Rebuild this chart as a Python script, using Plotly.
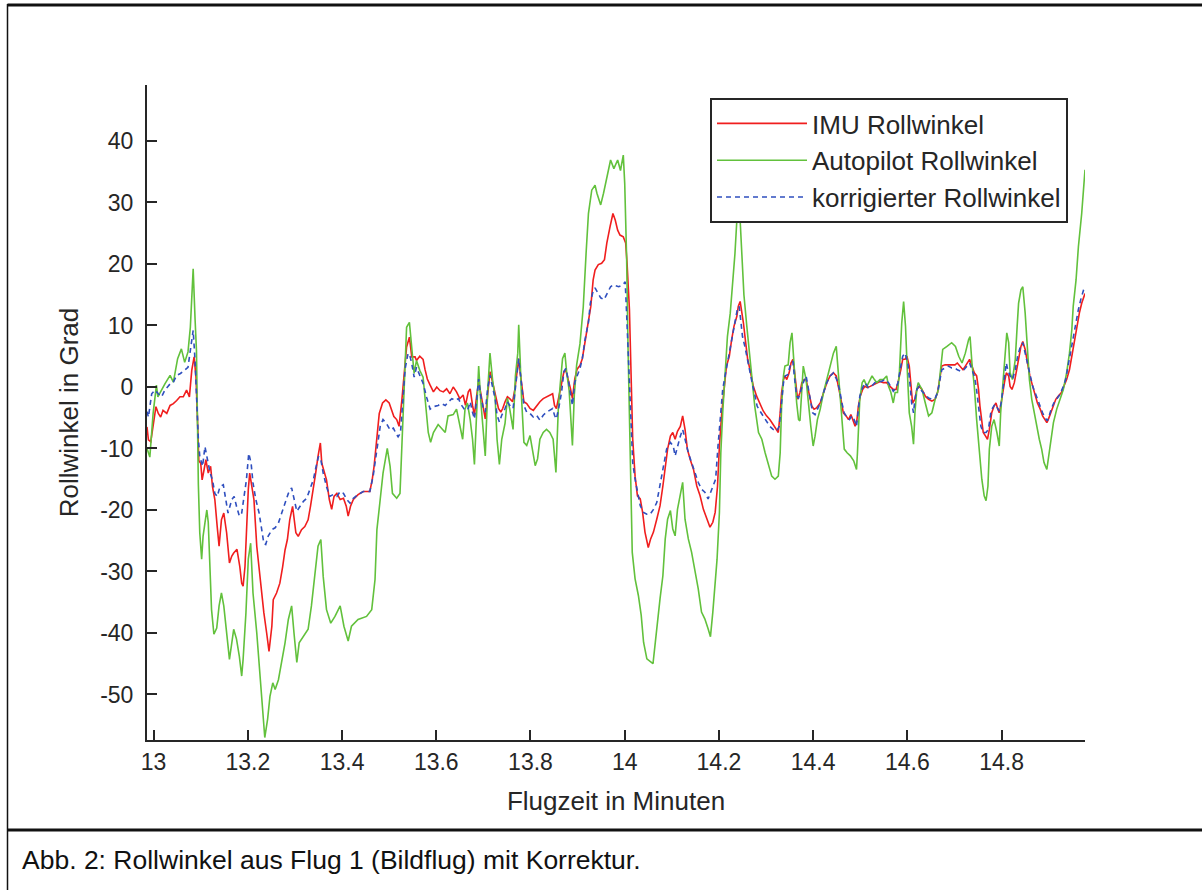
import plotly.graph_objects as go

# ---------------- data (time in minutes, roll angle in degrees) ----------------
imu = [
    (12.986, -6.5), (12.989, -8.6), (12.994, -8.9), (12.999, -5.9), (13.005, -3.2), (13.010, -4.3),
    (13.015, -4.9), (13.020, -3.8), (13.028, -4.3), (13.035, -3.0), (13.042, -2.7), (13.049, -2.2),
    (13.056, -1.6), (13.063, -1.6), (13.070, -0.5), (13.076, -1.6), (13.081, 2.7), (13.086, 4.9),
    (13.090, 1.6), (13.093, -4.9), (13.096, -12.0), (13.100, -12.4), (13.103, -15.1), (13.107, -13.5),
    (13.111, -11.8), (13.116, -14.0), (13.121, -12.9), (13.125, -16.2), (13.130, -18.3), (13.135, -22.7),
    (13.139, -25.9), (13.144, -21.6), (13.149, -20.5), (13.155, -23.7), (13.161, -28.6), (13.166, -27.5),
    (13.170, -27.0), (13.177, -26.4), (13.183, -29.2), (13.187, -31.9), (13.190, -32.4), (13.194, -29.2),
    (13.197, -23.7), (13.201, -16.7), (13.204, -14.0), (13.208, -16.2), (13.213, -18.3), (13.219, -25.9),
    (13.224, -29.7), (13.229, -33.5), (13.234, -36.7), (13.240, -40.0), (13.245, -43.0), (13.251, -38.9),
    (13.254, -34.6), (13.261, -33.5), (13.268, -31.9), (13.274, -29.2), (13.279, -26.5), (13.284, -24.8),
    (13.289, -21.6), (13.295, -19.4), (13.298, -21.6), (13.302, -23.7), (13.307, -24.3), (13.314, -23.2),
    (13.321, -22.7), (13.328, -21.6), (13.333, -19.4), (13.339, -16.7), (13.344, -14.0), (13.349, -11.3),
    (13.354, -9.1), (13.357, -12.4), (13.362, -14.0), (13.367, -15.1), (13.373, -18.3), (13.378, -19.9),
    (13.383, -17.8), (13.389, -17.3), (13.396, -18.3), (13.403, -18.1), (13.409, -19.4), (13.413, -21.0),
    (13.418, -19.4), (13.424, -18.3), (13.434, -17.5), (13.445, -17.0), (13.459, -17.0), (13.464, -15.1),
    (13.468, -12.9), (13.474, -8.6), (13.479, -4.3), (13.486, -2.6), (13.493, -2.1), (13.500, -2.6),
    (13.505, -3.7), (13.510, -4.8), (13.516, -5.3), (13.521, -6.4), (13.527, -2.1), (13.531, 1.1),
    (13.537, 6.5), (13.543, 8.1), (13.548, 4.9), (13.555, 4.9), (13.558, 4.3), (13.565, 5.0),
    (13.572, 4.5), (13.576, 2.9), (13.581, 1.3), (13.587, 0.3), (13.594, -0.8), (13.601, 0.0),
    (13.608, -0.6), (13.615, -0.8), (13.622, -0.3), (13.629, -1.1), (13.636, 0.0), (13.643, -0.8),
    (13.650, -1.9), (13.657, -1.3), (13.662, -3.0), (13.668, -0.8), (13.672, -0.3), (13.677, -3.0),
    (13.681, -4.6), (13.686, -1.3), (13.690, 0.8), (13.694, -0.8), (13.699, -3.0), (13.704, -5.2),
    (13.709, -1.3), (13.714, 2.5), (13.718, 1.3), (13.721, 0.3), (13.727, -1.3), (13.732, -3.5),
    (13.737, -4.1), (13.741, -3.5), (13.746, -2.4), (13.751, -1.6), (13.756, -1.9), (13.762, -2.4),
    (13.767, -0.3), (13.772, 3.5), (13.775, 4.6), (13.778, 2.5), (13.782, -0.3), (13.786, -2.4),
    (13.792, -2.7), (13.799, -3.5), (13.806, -3.8), (13.813, -3.0), (13.820, -2.4), (13.827, -1.9),
    (13.834, -1.6), (13.841, -1.3), (13.847, -1.1), (13.851, -3.0), (13.855, -3.5), (13.861, -1.3),
    (13.866, 0.8), (13.871, 2.5), (13.875, 2.7), (13.880, 1.3), (13.885, -0.3), (13.889, -1.9),
    (13.894, 1.3), (13.899, 2.9), (13.905, 3.5), (13.910, 4.6), (13.916, 7.3), (13.920, 8.9),
    (13.923, 10.5), (13.928, 13.1), (13.933, 17.4), (13.937, 19.0), (13.944, 19.9), (13.951, 20.1),
    (13.957, 20.7), (13.962, 23.4), (13.969, 26.1), (13.975, 28.2), (13.980, 27.1), (13.985, 25.5),
    (13.990, 24.7), (13.997, 24.4), (14.002, 23.4), (14.005, 20.1), (14.010, 12.6), (14.014, 1.2),
    (14.017, -8.5), (14.022, -14.5), (14.027, -17.7), (14.033, -18.2), (14.038, -20.4), (14.043, -23.6),
    (14.050, -26.1), (14.055, -24.7), (14.061, -23.6), (14.068, -21.5), (14.075, -19.3), (14.081, -16.1),
    (14.086, -12.8), (14.091, -10.1), (14.097, -8.0), (14.102, -7.4), (14.107, -8.5), (14.112, -7.2),
    (14.118, -6.4), (14.123, -4.7), (14.128, -6.9), (14.133, -10.1), (14.139, -11.8), (14.146, -13.4),
    (14.153, -16.1), (14.160, -17.7), (14.167, -19.9), (14.174, -21.5), (14.181, -22.8), (14.187, -22.0),
    (14.192, -20.4), (14.197, -16.1), (14.201, -9.6), (14.206, -4.2), (14.210, -0.4), (14.213, 1.2),
    (14.216, 3.4), (14.222, 5.0), (14.227, 7.7), (14.232, 9.9), (14.238, 11.5), (14.241, 13.1),
    (14.245, 13.9), (14.248, 12.6), (14.252, 10.4), (14.256, 7.7), (14.261, 4.5), (14.266, 2.8),
    (14.273, 0.1), (14.280, -1.5), (14.287, -2.6), (14.294, -3.9), (14.301, -4.7), (14.308, -5.3),
    (14.315, -6.1), (14.322, -6.9), (14.326, -7.4), (14.330, -4.2), (14.333, -0.9), (14.337, 1.2),
    (14.340, 1.8), (14.344, 1.2), (14.349, 2.3), (14.353, 3.9), (14.357, 4.5), (14.360, 2.8),
    (14.364, 0.1), (14.367, -2.0), (14.372, -0.9), (14.376, 0.7), (14.381, 1.2), (14.385, 1.2),
    (14.388, 0.1), (14.392, -1.5), (14.397, -3.1), (14.402, -3.6), (14.407, -3.4), (14.415, -2.6),
    (14.422, -0.9), (14.429, 0.7), (14.436, 1.8), (14.443, 2.3), (14.449, 1.8), (14.454, 0.1),
    (14.459, -2.0), (14.464, -4.2), (14.470, -4.7), (14.475, -5.3), (14.480, -4.5), (14.484, -5.3),
    (14.489, -6.4), (14.493, -5.3), (14.496, -3.1), (14.500, -1.5), (14.505, -0.4), (14.510, 0.1),
    (14.515, -0.1), (14.521, 0.1), (14.528, 0.4), (14.535, 0.7), (14.542, 0.9), (14.549, 0.7),
    (14.556, 0.7), (14.563, 0.1), (14.570, -0.4), (14.576, -0.4), (14.580, 0.7), (14.586, 2.8),
    (14.590, 4.5), (14.595, 4.5), (14.599, 5.0), (14.604, 3.4), (14.608, -0.4), (14.611, -2.6),
    (14.616, -2.0), (14.620, -0.4), (14.625, 0.1), (14.631, -0.4), (14.638, -1.5), (14.645, -2.0),
    (14.652, -2.3), (14.659, -2.0), (14.664, -0.9), (14.668, 1.2), (14.673, 3.4), (14.680, 3.6),
    (14.691, 3.6), (14.701, 3.6), (14.706, 3.9), (14.712, 3.4), (14.718, 2.8), (14.723, 3.4),
    (14.728, 3.9), (14.732, 4.5), (14.737, 3.4), (14.742, 2.3), (14.747, 1.8), (14.751, -0.4),
    (14.754, -3.1), (14.758, -5.8), (14.761, -7.4), (14.766, -8.0), (14.770, -8.5), (14.774, -6.9),
    (14.779, -4.2), (14.784, -3.1), (14.788, -2.6), (14.792, -3.6), (14.795, -4.2), (14.798, -3.1),
    (14.802, -0.9), (14.806, 0.7), (14.810, 2.3), (14.815, 1.8), (14.818, 0.1), (14.822, -0.4),
    (14.827, 0.7), (14.831, 2.3), (14.836, 4.5), (14.841, 6.6), (14.845, 7.4), (14.850, 6.1),
    (14.855, 3.9), (14.860, 1.8), (14.866, 0.1), (14.871, -1.5), (14.876, -2.6), (14.882, -3.6),
    (14.887, -4.7), (14.892, -5.3), (14.896, -5.8), (14.899, -5.3), (14.904, -4.2), (14.910, -3.1),
    (14.915, -2.0), (14.920, -1.5), (14.927, -0.9), (14.932, 0.1), (14.938, 1.2), (14.944, 2.8),
    (14.949, 5.0), (14.954, 7.7), (14.960, 10.4), (14.965, 12.0), (14.970, 13.6), (14.974, 14.7),
    (14.977, 15.2),
]

autopilot = [
    (12.986, -10.0), (12.992, -11.4), (12.999, -4.3), (13.006, 0.3), (13.009, -1.6), (13.016, -0.5),
    (13.024, 0.5), (13.035, 1.9), (13.042, 0.8), (13.051, 4.6), (13.059, 6.2), (13.066, 4.0),
    (13.073, 5.7), (13.078, 9.7), (13.084, 19.2), (13.088, 11.1), (13.091, 5.9), (13.095, -15.8),
    (13.098, -23.7), (13.102, -28.0), (13.105, -24.3), (13.109, -22.1), (13.113, -20.0), (13.116, -22.0),
    (13.120, -29.2), (13.123, -36.2), (13.128, -40.2), (13.134, -39.2), (13.139, -35.6), (13.144, -33.5),
    (13.149, -35.6), (13.155, -40.0), (13.161, -44.3), (13.166, -41.6), (13.170, -39.4), (13.176, -41.0),
    (13.182, -43.8), (13.187, -47.0), (13.190, -44.3), (13.196, -36.7), (13.201, -28.0), (13.206, -25.4),
    (13.211, -33.5), (13.219, -40.0), (13.226, -47.6), (13.231, -53.0), (13.236, -57.0), (13.242, -54.0),
    (13.247, -50.3), (13.253, -48.1), (13.258, -49.2), (13.265, -47.6), (13.272, -44.8), (13.279, -41.6),
    (13.286, -37.8), (13.293, -35.6), (13.298, -40.0), (13.304, -44.8), (13.309, -41.6), (13.318, -40.5),
    (13.328, -39.4), (13.335, -35.6), (13.342, -30.8), (13.349, -25.9), (13.355, -24.8), (13.360, -30.8),
    (13.367, -36.2), (13.376, -38.4), (13.385, -37.3), (13.396, -35.6), (13.404, -38.9), (13.413, -41.3),
    (13.420, -38.9), (13.434, -37.8), (13.452, -37.3), (13.463, -36.2), (13.470, -31.3), (13.474, -23.2),
    (13.481, -18.3), (13.487, -14.0), (13.496, -10.0), (13.502, -12.9), (13.507, -17.3), (13.516, -18.1),
    (13.523, -17.3), (13.527, -9.7), (13.530, -2.1), (13.537, 9.7), (13.543, 10.5), (13.548, 5.9),
    (13.553, 2.2), (13.558, 4.3), (13.565, 2.7), (13.572, 1.6), (13.578, -3.2), (13.583, -7.4),
    (13.588, -9.0), (13.594, -7.4), (13.604, -6.1), (13.619, -7.4), (13.625, -4.7), (13.636, -4.5),
    (13.643, -3.6), (13.650, -6.4), (13.656, -8.5), (13.661, -3.6), (13.666, -2.6), (13.672, -5.3),
    (13.677, -8.5), (13.681, -12.6), (13.686, -3.1), (13.690, 3.4), (13.694, -1.8), (13.700, -7.4),
    (13.704, -11.2), (13.709, -0.8), (13.714, 5.5), (13.720, 0.8), (13.725, -1.8), (13.729, -8.5),
    (13.734, -12.6), (13.739, -8.5), (13.746, -5.9), (13.751, -1.8), (13.756, -3.6), (13.763, -6.9),
    (13.768, 1.8), (13.773, 5.5), (13.775, 10.1), (13.778, 4.6), (13.781, -1.8), (13.786, -9.0),
    (13.792, -9.5), (13.799, -7.9), (13.805, -10.6), (13.810, -12.8), (13.815, -11.7), (13.820, -8.5),
    (13.827, -7.4), (13.834, -6.9), (13.841, -7.4), (13.848, -8.5), (13.854, -13.9), (13.859, -3.6),
    (13.863, 0.3), (13.868, 4.6), (13.873, 5.5), (13.877, 2.2), (13.882, -0.5), (13.887, -6.4),
    (13.889, -9.5), (13.893, -1.3), (13.898, 3.6), (13.905, 7.0), (13.912, 13.0), (13.918, 21.7),
    (13.923, 28.2), (13.930, 32.0), (13.937, 32.8), (13.941, 31.5), (13.949, 29.6), (13.955, 31.5),
    (13.962, 34.2), (13.970, 36.9), (13.977, 35.5), (13.985, 36.9), (13.991, 35.2), (13.997, 37.7),
    (14.000, 33.1), (14.004, 21.2), (14.007, 6.6), (14.012, -14.5), (14.016, -26.9), (14.022, -31.2),
    (14.029, -33.9), (14.035, -37.1), (14.040, -41.5), (14.047, -44.2), (14.054, -44.7), (14.060, -45.0),
    (14.065, -41.5), (14.070, -37.7), (14.075, -34.4), (14.081, -30.7), (14.086, -24.7), (14.091, -21.5),
    (14.097, -20.1), (14.102, -23.1), (14.107, -24.2), (14.112, -19.9), (14.118, -17.1), (14.123, -15.5),
    (14.128, -21.5), (14.135, -24.7), (14.142, -26.9), (14.149, -29.6), (14.156, -32.8), (14.163, -36.6),
    (14.170, -37.7), (14.177, -39.3), (14.182, -40.6), (14.187, -36.6), (14.191, -32.3), (14.196, -28.0),
    (14.201, -20.4), (14.204, -10.7), (14.208, -4.2), (14.213, 2.8), (14.218, 8.2), (14.224, 12.0),
    (14.229, 16.3), (14.234, 21.7), (14.238, 27.1), (14.241, 45.0), (14.245, 27.1), (14.248, 21.8),
    (14.253, 15.0), (14.259, 10.0), (14.266, 4.5), (14.276, -3.1), (14.284, -7.4), (14.291, -8.5),
    (14.298, -10.7), (14.305, -12.8), (14.312, -14.5), (14.319, -15.0), (14.326, -14.5), (14.330, -10.7),
    (14.333, -3.1), (14.337, 1.8), (14.340, 3.4), (14.347, 3.6), (14.351, 7.2), (14.355, 8.8),
    (14.358, 4.5), (14.362, 0.7), (14.365, -2.6), (14.369, -5.3), (14.372, -5.5), (14.376, -0.4),
    (14.379, 3.4), (14.385, 1.2), (14.390, -3.1), (14.395, -6.4), (14.400, -9.6), (14.404, -8.0),
    (14.409, -5.3), (14.415, -3.6), (14.422, -0.9), (14.429, 1.2), (14.436, 3.4), (14.443, 5.5),
    (14.449, 6.6), (14.452, 3.9), (14.456, -0.4), (14.461, -5.3), (14.466, -10.1), (14.472, -10.7),
    (14.479, -11.2), (14.486, -12.0), (14.492, -13.4), (14.494, -10.7), (14.499, -2.0), (14.504, 0.7),
    (14.508, 1.2), (14.514, 0.1), (14.520, 1.2), (14.525, 1.8), (14.530, 1.2), (14.535, 0.7),
    (14.542, 1.2), (14.549, 1.2), (14.556, 1.8), (14.560, 0.1), (14.565, -0.9), (14.570, -2.6),
    (14.574, -0.9), (14.579, -0.9), (14.583, 2.3), (14.588, 10.4), (14.592, 13.9), (14.596, 9.9),
    (14.600, 2.3), (14.604, -4.2), (14.609, -6.4), (14.613, -9.3), (14.616, -4.2), (14.620, -0.4),
    (14.623, 0.7), (14.631, -0.4), (14.638, -2.6), (14.645, -4.7), (14.652, -4.2), (14.659, -2.0),
    (14.666, -0.4), (14.671, 3.4), (14.675, 6.1), (14.684, 6.6), (14.694, 7.2), (14.702, 6.6),
    (14.709, 5.0), (14.716, 3.9), (14.723, 5.5), (14.730, 7.7), (14.733, 8.2), (14.737, 3.9),
    (14.742, 0.1), (14.747, -5.3), (14.753, -10.1), (14.758, -15.0), (14.763, -17.7), (14.767, -18.5),
    (14.771, -16.1), (14.774, -10.1), (14.779, -6.4), (14.784, -5.3), (14.790, -7.4), (14.795, -9.6),
    (14.798, -4.2), (14.803, 1.2), (14.808, 5.0), (14.811, 8.8), (14.815, 7.2), (14.818, 2.3),
    (14.823, 1.2), (14.829, 4.5), (14.833, 9.9), (14.836, 13.6), (14.841, 15.8), (14.845, 16.3),
    (14.850, 12.0), (14.854, 7.2), (14.859, 1.2), (14.864, -2.0), (14.869, -4.2), (14.875, -6.4),
    (14.880, -8.5), (14.885, -10.1), (14.890, -12.3), (14.896, -13.4), (14.899, -11.8), (14.904, -8.5),
    (14.910, -5.8), (14.917, -3.6), (14.924, -2.0), (14.931, -0.4), (14.938, 2.3), (14.944, 5.5),
    (14.949, 9.3), (14.952, 13.1), (14.958, 17.4), (14.963, 22.8), (14.970, 28.2), (14.974, 32.5),
    (14.977, 35.3),
]

korrigiert = [
    (12.986, -4.0), (12.989, -4.9), (12.996, -1.1), (13.003, -0.5), (13.010, -1.1), (13.017, -1.6),
    (13.024, -0.5), (13.035, 0.5), (13.042, 0.8), (13.049, 1.9), (13.057, 2.2), (13.066, 2.7),
    (13.073, 3.2), (13.079, 6.5), (13.084, 9.2), (13.088, 4.3), (13.091, -2.2), (13.095, -8.5),
    (13.098, -11.3), (13.104, -12.9), (13.109, -9.7), (13.115, -11.8), (13.120, -14.0), (13.125, -15.1),
    (13.130, -17.3), (13.135, -17.8), (13.141, -16.2), (13.148, -15.9), (13.153, -18.3), (13.158, -20.5),
    (13.166, -18.3), (13.171, -17.8), (13.176, -19.4), (13.182, -21.0), (13.187, -20.5), (13.192, -17.8),
    (13.197, -15.1), (13.202, -10.8), (13.207, -12.4), (13.211, -15.6), (13.217, -18.3), (13.224, -20.5),
    (13.229, -23.2), (13.234, -25.4), (13.238, -25.6), (13.243, -24.3), (13.251, -23.2), (13.258, -22.9),
    (13.265, -22.1), (13.272, -20.5), (13.279, -18.9), (13.286, -17.3), (13.293, -16.4), (13.298, -18.3),
    (13.304, -20.2), (13.311, -19.4), (13.318, -18.6), (13.325, -18.1), (13.332, -16.7), (13.339, -15.1),
    (13.345, -12.9), (13.350, -11.3), (13.355, -11.8), (13.360, -14.0), (13.367, -16.2), (13.374, -17.8),
    (13.381, -17.5), (13.389, -17.8), (13.396, -17.0), (13.403, -17.3), (13.410, -18.3), (13.417, -18.9),
    (13.424, -18.1), (13.434, -17.5), (13.445, -17.0), (13.459, -17.0), (13.466, -14.5), (13.474, -9.7),
    (13.481, -6.4), (13.487, -5.3), (13.494, -5.9), (13.502, -7.0), (13.509, -6.7), (13.514, -7.5),
    (13.519, -8.1), (13.524, -7.5), (13.529, -2.1), (13.534, 3.0), (13.540, 5.4), (13.543, 5.4),
    (13.548, 3.8), (13.553, 1.6), (13.558, 3.2), (13.565, 2.0), (13.572, 0.6), (13.580, -1.8),
    (13.587, -3.6), (13.594, -3.2), (13.604, -3.0), (13.611, -2.7), (13.619, -3.0), (13.626, -2.4),
    (13.633, -1.9), (13.640, -2.2), (13.647, -1.9), (13.654, -3.0), (13.661, -3.8), (13.668, -3.5),
    (13.672, -2.4), (13.677, -4.1), (13.681, -5.2), (13.686, -1.9), (13.690, 1.3), (13.694, -1.3),
    (13.700, -3.5), (13.704, -4.1), (13.709, -0.3), (13.714, 1.9), (13.720, -0.3), (13.725, -1.9),
    (13.729, -4.6), (13.734, -5.7), (13.739, -4.6), (13.746, -3.5), (13.751, -2.4), (13.756, -3.0),
    (13.763, -3.5), (13.768, 0.3), (13.773, 4.0), (13.775, 4.6), (13.778, 2.5), (13.782, -0.8),
    (13.786, -3.0), (13.792, -4.1), (13.799, -4.3), (13.806, -4.9), (13.813, -4.6), (13.820, -5.4),
    (13.827, -4.6), (13.834, -4.1), (13.841, -3.8), (13.847, -3.5), (13.851, -4.6), (13.855, -5.2),
    (13.861, -3.0), (13.866, -0.8), (13.871, 2.5), (13.875, 3.0), (13.880, 1.3), (13.885, -0.8),
    (13.889, -3.0), (13.894, 0.8), (13.899, 1.9), (13.905, 3.0), (13.910, 4.6), (13.916, 7.8),
    (13.923, 10.5), (13.927, 13.6), (13.932, 15.3), (13.937, 16.1), (13.943, 15.3), (13.949, 14.5),
    (13.956, 14.2), (13.963, 15.3), (13.970, 16.3), (13.976, 16.6), (13.987, 16.3), (13.996, 16.6),
    (14.001, 17.1), (14.004, 12.0), (14.007, 6.6), (14.011, 1.2), (14.013, -4.2), (14.017, -12.3),
    (14.022, -15.0), (14.027, -17.1), (14.033, -19.3), (14.040, -20.4), (14.047, -20.7), (14.054, -20.7),
    (14.061, -19.9), (14.068, -18.8), (14.075, -16.1), (14.082, -12.8), (14.089, -10.1), (14.097, -9.0),
    (14.103, -9.6), (14.107, -11.2), (14.112, -9.6), (14.118, -8.0), (14.123, -6.9), (14.130, -9.0),
    (14.135, -10.7), (14.142, -12.3), (14.149, -13.9), (14.156, -15.5), (14.163, -16.6), (14.170, -17.1),
    (14.177, -18.2), (14.182, -17.1), (14.188, -16.1), (14.193, -15.0), (14.198, -9.6), (14.203, -4.2),
    (14.208, -0.4), (14.213, 1.8), (14.218, 3.9), (14.224, 6.1), (14.229, 8.8), (14.234, 10.9),
    (14.239, 12.6), (14.243, 13.1), (14.246, 10.9), (14.250, 8.2), (14.255, 6.6), (14.260, 4.5),
    (14.266, 2.3), (14.272, 0.1), (14.276, -1.2), (14.281, -3.1), (14.287, -3.9), (14.294, -4.7),
    (14.301, -5.5), (14.308, -6.4), (14.315, -6.9), (14.322, -7.2), (14.328, -6.4), (14.332, -2.6),
    (14.337, 0.7), (14.341, 1.8), (14.346, 2.0), (14.351, 3.4), (14.357, 4.2), (14.360, 1.8),
    (14.365, -1.5), (14.369, -1.8), (14.374, -0.4), (14.379, 0.7), (14.385, 1.8), (14.389, 0.1),
    (14.393, -2.0), (14.399, -4.2), (14.404, -4.5), (14.409, -3.6), (14.415, -2.6), (14.422, -0.9),
    (14.429, 0.7), (14.436, 1.8), (14.443, 2.3), (14.450, 1.2), (14.456, -0.4), (14.461, -2.6),
    (14.466, -4.2), (14.472, -5.0), (14.477, -5.3), (14.482, -4.7), (14.487, -5.3), (14.492, -6.4),
    (14.496, -3.6), (14.499, -1.5), (14.505, -0.1), (14.510, 0.7), (14.517, -0.1), (14.524, 0.1),
    (14.531, 0.7), (14.538, 0.9), (14.545, 0.9), (14.552, 1.2), (14.560, 0.7), (14.565, 0.1),
    (14.570, -0.7), (14.576, -0.1), (14.580, 0.7), (14.586, 3.4), (14.590, 5.0), (14.595, 5.5),
    (14.601, 3.9), (14.606, 0.1), (14.609, -2.6), (14.613, -4.2), (14.616, -2.0), (14.620, -0.4),
    (14.625, 0.1), (14.631, -0.7), (14.638, -1.2), (14.645, -1.8), (14.652, -2.0), (14.659, -1.8),
    (14.664, -0.9), (14.668, 0.7), (14.673, 2.8), (14.680, 3.1), (14.687, 3.4), (14.694, 3.1),
    (14.701, 3.1), (14.706, 2.8), (14.712, 2.6), (14.718, 2.6), (14.723, 3.1), (14.728, 3.6),
    (14.732, 3.9), (14.737, 2.8), (14.742, 1.8), (14.746, 0.1), (14.750, -2.6), (14.753, -4.2),
    (14.756, -6.4), (14.761, -7.4), (14.767, -7.4), (14.772, -6.9), (14.777, -4.2), (14.781, -3.4),
    (14.786, -2.8), (14.791, -3.4), (14.795, -3.9), (14.799, -2.6), (14.802, -0.9), (14.806, 1.2),
    (14.810, 3.9), (14.813, 2.8), (14.818, 1.8), (14.823, 1.2), (14.829, 2.8), (14.834, 5.0),
    (14.840, 6.6), (14.845, 7.2), (14.850, 5.5), (14.856, 3.4), (14.860, 1.8), (14.866, 0.1),
    (14.871, -0.9), (14.876, -2.0), (14.882, -3.1), (14.887, -4.2), (14.892, -5.0), (14.897, -5.5),
    (14.901, -4.7), (14.906, -3.4), (14.911, -2.6), (14.917, -2.0), (14.924, -1.2), (14.931, 0.1),
    (14.936, 1.2), (14.941, 3.4), (14.946, 5.5), (14.952, 8.2), (14.958, 10.9), (14.963, 12.6),
    (14.968, 14.2), (14.974, 15.8), (14.977, 16.1),
]

series_names = ["IMU Rollwinkel", "Autopilot Rollwinkel", "korrigierter Rollwinkel"]
x_tick_vals = [13.0, 13.2, 13.4, 13.6, 13.8, 14.0, 14.2, 14.4, 14.6, 14.8]
x_tick_text = ["13", "13.2", "13.4", "13.6", "13.8", "14", "14.2", "14.4", "14.6", "14.8"]
y_tick_vals = [-50, -40, -30, -20, -10, 0, 10, 20, 30, 40]
y_tick_text = ["-50", "-40", "-30", "-20", "-10", "0", "10", "20", "30", "40"]
x_title = "Flugzeit in Minuten"
y_title = "Rollwinkel in Grad"
caption = "Abb. 2: Rollwinkel aus Flug 1 (Bildflug) mit Korrektur."

# ---------------- figure ----------------
FONT = "Liberation Sans, Arial, sans-serif"
INK = "#262626"

fig = go.Figure()
styles = [
    dict(color="#f01e1e", width=1.6),
    dict(color="#62c13c", width=1.6),
    dict(color="#2f4fbf", width=1.6, dash="5px,4px"),
]
for name, data, st in zip(series_names, [imu, autopilot, korrigiert], styles):
    t, v = zip(*data)
    fig.add_trace(go.Scatter(x=list(t), y=list(v), mode="lines", name=name, line=st,
                             legendgroup=name))

W, H = 1202, 890
L, R, T, B = 147, 1085, 85, 740   # plot area in pixels
pw, ph = R - L, B - T

def px_x(x):
    return (x - L) / pw

def px_y(y):
    return (B - y) / ph

fig.update_layout(
    width=W, height=H, autosize=False,
    margin=dict(l=L, r=W - R, t=T, b=H - B, pad=0),
    paper_bgcolor="white", plot_bgcolor="white",
    font=dict(family=FONT, color=INK, size=23),
    showlegend=True,
    legend=dict(
        x=px_x(710), y=px_y(98), xanchor="left", yanchor="top",
        bgcolor="white", bordercolor=INK, borderwidth=2,
        font=dict(family=FONT, size=26, color=INK),
        itemwidth=90, tracegroupgap=0,
    ),
    xaxis=dict(
        range=[12.986, 14.977], tickmode="array", tickvals=x_tick_vals, ticktext=x_tick_text,
        showline=True, linecolor=INK, linewidth=2, mirror=False,
        ticks="inside", ticklen=10, tickwidth=1.5, tickcolor=INK,
        showgrid=False, zeroline=False, tickfont=dict(size=23, family=FONT, color=INK),
        title=dict(text=x_title, font=dict(size=26, family=FONT, color=INK), standoff=18),
    ),
    yaxis=dict(
        range=[-57.4, 49.1], tickmode="array", tickvals=y_tick_vals, ticktext=y_tick_text,
        showline=True, linecolor=INK, linewidth=2, mirror=False,
        ticks="inside", ticklen=10, tickwidth=1.5, tickcolor=INK,
        showgrid=False, zeroline=False, tickfont=dict(size=23, family=FONT, color=INK),
        ticklabelstandoff=7,
        title=dict(text=y_title, font=dict(size=26, family=FONT, color=INK), standoff=14),
    ),
)

# outer frame of the figure panel and caption separator
fig.add_shape(type="line", xref="paper", yref="paper", x0=px_x(7.5), x1=px_x(1210),
              y0=px_y(5), y1=px_y(5), line=dict(color="#111", width=3), layer="above")
fig.add_shape(type="line", xref="paper", yref="paper", x0=px_x(7.5), x1=px_x(7.5),
              y0=px_y(4), y1=px_y(900), line=dict(color="#111", width=1.5), layer="above")
fig.add_shape(type="line", xref="paper", yref="paper", x0=px_x(7.5), x1=px_x(1210),
              y0=px_y(830), y1=px_y(830), line=dict(color="#111", width=3), layer="above")

fig.add_annotation(text=caption, xref="paper", yref="paper", x=px_x(20), y=px_y(860),
                   xanchor="left", yanchor="middle", showarrow=False,
                   font=dict(family=FONT, size=26.5, color="#111"))

# remove the browser's default 8px page margin so the figure sits at the window origin
fig.write_html("out.html", config={"displayModeBar": False},
               post_script="document.body.style.margin='0';")
